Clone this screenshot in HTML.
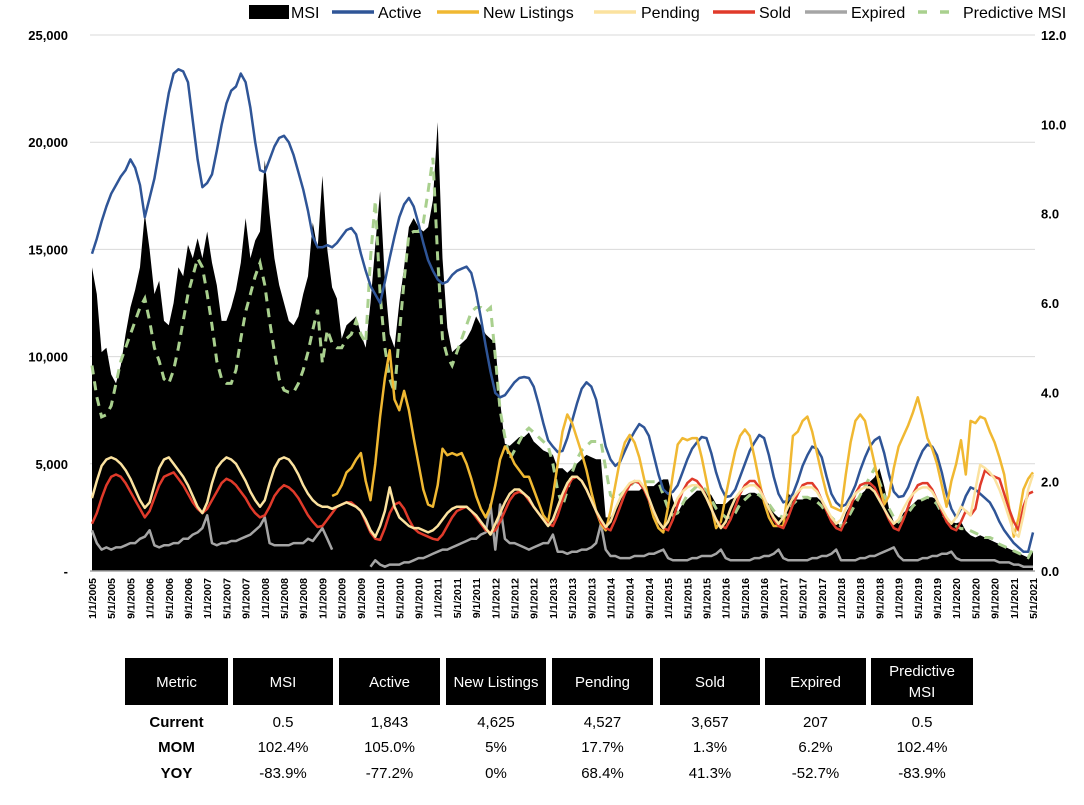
<!DOCTYPE html>
<html><head><meta charset="utf-8">
<style>
body{margin:0;background:#fff;width:1084px;height:800px;overflow:hidden;font-family:"Liberation Sans",sans-serif}
svg text{font-family:"Liberation Sans",sans-serif}
.tbl{position:absolute;left:0;top:0}
</style></head>
<body>
<svg id="chart" width="1084" height="800">
  <g id="grid"></g>
  <g id="area"></g>
  <g id="lines"></g>
  <g id="axes"></g>
  <g id="legend"></g>
  <g id="table"></g>
</svg>
<script>
// ---- data (monthly, 1/1/2005 .. 5/1/2021) ----
const startYear = 2005;
const leftTicks = [0,5000,10000,15000,20000,25000];
const leftTickLabels = ["-","5,000","10,000","15,000","20,000","25,000"];
const rightTicks = [0,2,4,6,8,10,12];
const rightTickLabels = ["0.0","2.0","4.0","6.0","8.0","10.0","12.0"];
const msi = [
6.8,6.2,4.9,5.0,4.4,4.2,4.6,5.3,5.9,6.3,6.8,8.0,
7.2,6.2,6.5,5.6,5.5,6.0,6.8,6.6,7.3,7.0,7.45,7.0,
7.6,6.9,6.4,5.6,5.6,5.9,6.3,6.9,7.9,7.0,7.4,7.6,
9.2,8.0,7.0,6.4,6.0,5.6,5.5,5.7,6.2,6.6,7.8,7.2,
8.85,7.2,6.35,6.1,5.2,5.5,5.6,5.7,5.3,5.0,6.0,7.3,
8.5,6.5,5.3,5.0,6.0,6.8,7.7,7.9,7.7,7.6,7.7,8.3,
10.05,7.0,5.45,4.9,5.0,5.1,5.2,5.4,5.7,5.5,5.3,5.2,
5.1,3.8,2.85,2.8,2.9,3.0,3.0,3.1,2.9,2.8,2.7,2.65,
2.6,2.3,2.3,2.2,2.3,2.4,2.5,2.6,2.55,2.5,2.5,1.2,
1.2,1.4,1.6,1.8,1.8,1.8,1.8,1.9,1.9,1.9,2.0,2.05,
2.05,1.6,1.3,1.5,1.6,1.7,1.8,1.8,1.8,1.7,1.5,1.5,
1.5,1.6,1.65,1.7,1.7,1.75,1.75,1.7,1.6,1.5,1.3,1.2,
1.2,1.75,1.6,1.6,1.6,1.65,1.65,1.65,1.55,1.4,1.2,1.1,
1.0,1.3,1.5,1.6,1.7,1.8,2.0,2.1,2.3,1.9,1.4,1.1,
1.07,1.3,1.4,1.5,1.6,1.6,1.65,1.65,1.6,1.4,1.2,1.1,
1.07,1.1,0.9,0.8,0.75,0.8,0.75,0.7,0.65,0.6,0.55,0.5,
0.45,0.4,0.35,0.3,0.45];
const predictiveMsi = [
4.6,3.9,3.45,3.5,3.7,4.2,4.7,5.0,5.3,5.6,5.9,6.1,
5.6,5.0,4.7,4.3,4.2,4.5,5.0,5.6,6.2,6.6,7.0,6.8,
6.2,5.5,4.7,4.3,4.2,4.2,4.5,5.2,5.8,6.2,6.6,6.9,
6.4,5.6,4.9,4.3,4.05,4.0,4.0,4.2,4.5,4.9,5.4,5.85,
4.65,5.4,5.1,5.0,5.0,5.2,5.3,5.6,5.3,5.1,7.0,8.3,
6.2,5.0,4.3,4.0,5.3,6.5,7.55,7.6,7.6,7.8,8.5,9.25,
7.0,5.2,4.8,4.6,4.9,5.2,5.5,5.8,5.9,5.9,5.8,5.9,
4.8,3.6,3.0,2.5,2.7,2.9,3.1,3.2,3.1,3.0,2.9,2.8,
2.4,1.8,1.45,1.8,2.2,2.5,2.7,2.8,2.9,2.9,2.9,2.3,
1.7,1.6,1.7,1.8,1.9,2.0,2.0,2.0,2.0,2.0,2.0,1.7,
1.4,1.25,1.3,1.5,1.7,1.8,1.9,1.9,1.8,1.6,1.4,1.3,
1.2,1.2,1.3,1.5,1.6,1.7,1.75,1.7,1.6,1.5,1.35,1.25,
1.2,1.3,1.5,1.6,1.65,1.65,1.6,1.55,1.45,1.3,1.2,1.1,
1.0,1.1,1.3,1.5,1.7,1.9,2.1,2.3,2.0,1.7,1.4,1.2,
1.1,1.2,1.3,1.45,1.55,1.6,1.65,1.6,1.5,1.3,1.15,1.05,
1.0,0.95,0.95,0.9,0.85,0.8,0.75,0.75,0.7,0.6,0.55,0.5,
0.45,0.4,0.35,0.3,0.5];
const activeK = [
14.8,15.5,16.3,17.0,17.6,18.0,18.4,18.7,19.2,18.8,18.0,16.5,
17.4,18.3,19.6,21.0,22.3,23.2,23.4,23.3,22.8,21.0,19.2,17.9,
18.1,18.5,19.6,20.8,21.8,22.4,22.6,23.2,22.8,21.6,20.0,18.7,
18.6,19.2,19.8,20.2,20.3,20.0,19.4,18.6,17.8,16.8,15.6,15.1,
15.1,15.2,15.1,15.3,15.6,15.9,16.0,15.7,14.8,14.0,13.3,12.9,
12.5,13.5,14.6,15.6,16.5,17.1,17.4,17.0,16.2,15.3,14.5,14.0,
13.6,13.4,13.5,13.8,14.0,14.1,14.2,13.9,13.0,11.8,10.5,9.3,
8.3,8.1,8.2,8.5,8.8,9.0,9.05,9.0,8.6,7.8,6.9,6.1,
5.8,5.55,5.6,6.2,7.0,7.8,8.5,8.8,8.6,8.0,6.9,5.8,
5.2,4.9,5.1,5.6,6.1,6.5,6.85,6.7,6.3,5.4,4.5,3.8,
3.6,3.7,4.0,4.6,5.2,5.7,6.0,6.25,6.2,5.5,4.6,3.9,
3.45,3.5,3.8,4.4,5.0,5.6,6.0,6.35,6.2,5.4,4.4,3.6,
3.2,3.3,3.6,4.2,4.9,5.4,5.8,5.7,5.3,4.4,3.6,3.2,
3.0,3.1,3.5,4.0,4.7,5.3,5.8,6.1,6.25,5.5,4.5,3.7,
3.45,3.5,3.9,4.5,5.1,5.6,5.9,5.8,5.4,4.6,3.6,2.9,
2.5,2.9,3.5,3.9,3.8,3.6,3.4,3.2,2.8,2.3,1.9,1.6,
1.3,1.1,0.9,0.9,1.8];
const newListingsK = [
null,null,null,null,null,null,null,null,null,null,null,null,
null,null,null,null,null,null,null,null,null,null,null,null,
null,null,null,null,null,null,null,null,null,null,null,null,
null,null,null,null,null,null,null,null,null,null,null,null,
null,null,3.5,3.6,4.0,4.6,4.8,5.2,5.5,4.2,3.3,5.0,
7.2,9.0,10.3,8.0,7.5,8.4,7.5,6.2,5.0,3.8,3.1,3.0,
4.0,5.7,5.4,5.5,5.4,5.5,5.0,4.3,3.5,2.9,2.5,3.0,
4.0,5.2,5.8,5.5,5.0,4.7,4.4,4.4,3.8,3.2,2.6,2.3,
3.5,5.0,6.5,7.3,6.9,6.2,5.5,4.7,3.7,2.8,2.2,1.9,
2.8,4.0,5.2,6.0,6.35,6.0,5.3,4.3,3.3,2.5,2.0,1.8,
3.0,4.5,5.9,6.2,6.1,6.2,6.2,5.3,4.2,3.0,2.0,2.3,
3.5,4.6,5.6,6.3,6.6,6.3,5.3,4.2,3.2,2.5,2.1,2.1,
2.1,3.8,6.3,6.5,7.0,7.2,6.5,5.5,4.5,3.6,3.0,2.9,
2.8,4.5,6.0,7.0,7.3,7.0,6.0,5.0,4.0,3.1,3.5,4.8,
5.8,6.3,6.8,7.4,8.1,7.2,6.2,5.7,5.0,4.0,3.0,4.2,
5.0,6.1,4.5,7.0,6.9,7.2,7.1,6.5,6.0,5.3,4.5,3.0,
1.6,2.5,3.8,4.3,4.6];
const pendingK = [
3.4,4.2,4.9,5.2,5.3,5.2,5.0,4.7,4.3,3.8,3.3,2.95,
3.2,4.0,4.8,5.2,5.3,5.0,4.7,4.4,4.0,3.5,3.0,2.7,
3.2,4.1,4.8,5.1,5.3,5.2,5.0,4.6,4.2,3.7,3.3,3.0,
3.3,4.1,4.8,5.2,5.3,5.2,4.9,4.5,4.0,3.6,3.3,3.1,
3.0,3.0,2.9,3.0,3.1,3.2,3.1,3.0,2.8,2.4,1.9,1.6,
2.1,2.8,3.9,3.0,2.5,2.3,2.1,2.0,2.0,1.9,1.8,1.9,
2.1,2.4,2.7,2.9,3.0,3.0,3.0,2.8,2.6,2.3,2.0,1.7,
2.2,2.7,3.2,3.6,3.8,3.8,3.6,3.4,3.0,2.7,2.4,2.1,
2.4,3.0,3.6,4.1,4.4,4.4,4.2,3.8,3.3,2.8,2.4,2.05,
2.3,2.9,3.4,3.8,4.1,4.2,4.2,3.9,3.4,2.8,2.3,2.0,
2.3,2.9,3.4,3.7,3.9,4.0,4.0,3.8,3.4,2.9,2.4,2.0,
2.3,2.9,3.4,3.7,3.9,4.0,4.0,3.8,3.4,2.9,2.5,2.2,
2.5,3.0,3.4,3.7,3.9,3.9,3.9,3.7,3.3,2.9,2.5,2.2,
2.4,2.9,3.3,3.6,3.8,3.9,3.9,3.7,3.3,2.9,2.5,2.2,
2.4,2.9,3.3,3.6,3.8,3.9,3.9,3.7,3.3,2.9,2.5,2.2,
2.5,3.0,2.8,2.6,3.8,4.95,4.8,4.6,4.3,3.8,3.2,2.5,
1.8,1.6,2.6,3.8,4.5];
const soldK = [
2.2,2.7,3.4,4.0,4.4,4.5,4.4,4.1,3.7,3.3,2.9,2.5,
2.8,3.4,4.0,4.4,4.5,4.6,4.3,4.0,3.6,3.2,2.9,2.7,
2.9,3.3,3.7,4.1,4.3,4.2,4.0,3.7,3.4,3.0,2.7,2.5,
2.6,3.0,3.5,3.8,4.0,3.9,3.7,3.4,3.0,2.6,2.3,2.05,
2.1,2.4,2.7,3.0,3.1,3.2,3.2,3.0,2.8,2.3,1.8,1.5,
1.45,2.0,2.7,3.1,3.2,2.9,2.4,2.0,1.8,1.7,1.6,1.5,
1.45,1.7,2.1,2.5,2.8,2.9,3.0,2.8,2.5,2.2,1.9,1.8,
1.9,2.3,2.8,3.3,3.6,3.7,3.6,3.3,3.0,2.7,2.4,2.2,
2.1,2.6,3.3,3.9,4.3,4.4,4.2,3.8,3.3,2.8,2.3,2.0,
1.9,2.4,3.0,3.6,4.0,4.2,4.1,3.8,3.3,2.8,2.3,2.0,
1.9,2.4,3.1,3.7,4.1,4.3,4.2,3.9,3.4,2.9,2.4,2.1,
2.0,2.4,3.0,3.6,4.0,4.2,4.2,3.9,3.4,2.9,2.4,2.1,
2.0,2.5,3.1,3.6,4.0,4.1,4.1,3.8,3.3,2.8,2.3,2.0,
1.9,2.4,3.0,3.6,4.0,4.1,4.1,3.9,3.4,2.9,2.4,2.0,
1.9,2.4,3.0,3.6,4.0,4.1,4.1,3.8,3.3,2.8,2.3,2.0,
1.9,2.3,2.8,2.6,2.9,4.0,4.7,4.5,4.4,4.3,3.6,2.9,
2.3,1.9,3.0,3.6,3.7];
const expiredK = [
1.9,1.3,1.0,1.1,1.0,1.1,1.1,1.2,1.3,1.3,1.5,1.6,
1.9,1.2,1.1,1.2,1.2,1.3,1.3,1.5,1.5,1.7,1.8,2.0,
2.6,1.3,1.2,1.3,1.3,1.4,1.4,1.5,1.6,1.7,1.9,2.1,
2.5,1.3,1.2,1.2,1.2,1.2,1.3,1.3,1.3,1.5,1.4,1.7,
2.0,1.5,1.0,null,null,null,null,null,null,null,0.2,0.5,
0.3,0.2,0.3,0.3,0.3,0.4,0.4,0.5,0.6,0.6,0.7,0.8,
0.9,1.0,1.0,1.1,1.2,1.3,1.4,1.5,1.5,1.7,1.8,3.1,
1.0,3.1,1.5,1.3,1.3,1.2,1.1,1.0,1.1,1.2,1.3,1.3,
1.7,0.9,0.9,0.8,0.9,0.9,1.0,1.0,1.1,1.3,2.2,1.0,
0.7,0.7,0.6,0.6,0.6,0.7,0.7,0.7,0.8,0.8,0.9,1.0,
0.6,0.5,0.5,0.5,0.5,0.6,0.6,0.7,0.7,0.7,0.8,1.0,
0.6,0.5,0.5,0.5,0.5,0.5,0.6,0.6,0.7,0.7,0.8,1.0,
0.6,0.5,0.5,0.5,0.5,0.5,0.6,0.6,0.7,0.7,0.8,1.0,
0.5,0.5,0.5,0.5,0.6,0.6,0.7,0.7,0.8,0.9,1.0,1.1,
0.7,0.5,0.5,0.5,0.5,0.6,0.6,0.7,0.7,0.8,0.8,0.9,
0.6,0.5,0.5,0.5,0.5,0.5,0.5,0.5,0.5,0.4,0.4,0.4,
0.3,0.3,0.2,0.2,0.2];
const tableHeaders = ["Metric","MSI","Active","New Listings","Pending","Sold","Expired","Predictive MSI"];
const tableRows = [
 ["Current","0.5","1,843","4,625","4,527","3,657","207","0.5"],
 ["MOM","102.4%","105.0%","5%","17.7%","1.3%","6.2%","102.4%"],
 ["YOY","-83.9%","-77.2%","0%","68.4%","41.3%","-52.7%","-83.9%"]];

// ---- scales ----
const NS="http://www.w3.org/2000/svg";
const X0=92, X1=1033, YB=571, YT=35;
const n = msi.length;
function xs(i){return X0+(X1-X0)*i/(n-1);}
function yl(v){return YB-(YB-YT)*v/25000;}
function yr(v){return YB-(YB-YT)*v/12;}
function mk(tag,attrs,parent){const e=document.createElementNS(NS,tag);for(const k in attrs)e.setAttribute(k,attrs[k]);parent.appendChild(e);return e;}

const grid=document.getElementById('grid'), area=document.getElementById('area'),
 lines=document.getElementById('lines'), axes=document.getElementById('axes'),
 legend=document.getElementById('legend'), table=document.getElementById('table');

leftTicks.forEach((t,k)=>{
  if(t>0){const g=mk('line',{x1:X0-2,x2:X1+2,y1:yl(t),y2:yl(t),stroke:'#d9d9d9','stroke-width':1},grid);
  
  }
  const tx=mk('text',{x:68,y:yl(t)+5,'text-anchor':'end','font-size':13,'font-weight':'bold',fill:'#000'},axes);
  tx.textContent=leftTickLabels[k];
  
  
});
rightTicks.forEach((t,k)=>{
  const tx=mk('text',{x:1041,y:yr(t)+5,'font-size':13,'font-weight':'bold',fill:'#000'},axes);
  tx.textContent=rightTickLabels[k];
  
  
});

// MSI area
let d='M'+xs(0)+','+YB;
msi.forEach((v,i)=>{d+=' L'+xs(i).toFixed(1)+','+yr(v).toFixed(1);});
d+=' L'+xs(n-1)+','+YB+' Z';
const ar=mk('path',{d:d,fill:'#000'},area);



const base=mk('line',{x1:X0-2,x2:X1+2,y1:YB,y2:YB,stroke:'#a6a6a6','stroke-width':1.5},axes);



function linePath(arr,scale,k){let s='',pen=false;arr.forEach((v,i)=>{if(v===null){pen=false;return;}
  const y=scale(v*k);s+=(pen?' L':' M')+xs(i).toFixed(1)+','+y.toFixed(1);pen=true;});return s;}
const expP=mk('path',{d:linePath(expiredK,yl,1000),fill:'none',stroke:'#a5a5a5','stroke-width':2.5,'stroke-linejoin':'round'},lines);


const predP=mk('path',{d:linePath(predictiveMsi,yr,1),fill:'none',stroke:'#a9d08e','stroke-width':3,'stroke-dasharray':'9,7'},lines);


const actP=mk('path',{d:linePath(activeK,yl,1000),fill:'none',stroke:'#2f5597','stroke-width':2.5,'stroke-linejoin':'round'},lines);


const nlP=mk('path',{d:linePath(newListingsK,yl,1000),fill:'none',stroke:'#f0b832','stroke-width':2.5,'stroke-linejoin':'round'},lines);


const soP=mk('path',{d:linePath(soldK,yl,1000),fill:'none',stroke:'#e03a2a','stroke-width':2.5,'stroke-linejoin':'round'},lines);


const peP=mk('path',{d:linePath(pendingK,yl,1000),fill:'none',stroke:'#fbe29f','stroke-width':2.5,'stroke-linejoin':'round'},lines);



// x labels every 4 months
for(let i=0;i<n;i+=4){
  const yr0=startYear+Math.floor(i/12), m=(i%12)+1;
  const x=xs(i)+4;
  const t=mk('text',{x:0,y:0,'font-size':10.5,'font-weight':'bold','text-anchor':'end',transform:'translate('+x.toFixed(1)+',578) rotate(-90)'},axes);
  t.textContent=m+'/1/'+yr0;
  
  
}

// legend
const leg=[
 {n:'MSI',t:'rect',x:249,tx:291},
 {n:'Active',c:'#2f5597',x:332,tx:378},
 {n:'New Listings',c:'#f0b832',x:437,tx:483},
 {n:'Pending',c:'#fbe29f',x:594,tx:641},
 {n:'Sold',c:'#e03a2a',x:713,tx:759},
 {n:'Expired',c:'#a5a5a5',x:805,tx:851},
 {n:'Predictive MSI',c:'#a9d08e',x:918,tx:963,dash:true}];
leg.forEach(L=>{
  const g=mk('g',{},legend);
  
  
  if(L.t==='rect') mk('rect',{x:L.x,y:5,width:40,height:14,fill:'#000'},g);
  else mk('line',{x1:L.x,x2:L.x+(L.dash?31:42),y1:12,y2:12,stroke:L.c,'stroke-width':3.5,'stroke-dasharray':L.dash?'9,13':'none'},g);
  const t=mk('text',{x:L.tx,y:18,'font-size':16,fill:'#000'},g);
  t.textContent=L.n;
});

// table
const colX=[125,233,339,446,552,660,765,871], colW=[103,100,101,100,101,100,101,102];
colX.forEach((x,k)=>{
  const r=mk('rect',{x:x,y:658,width:colW[k],height:47,fill:'#000'},table);
  
  
  const cx=x+colW[k]/2;
  if(tableHeaders[k]==='Predictive MSI'){
    const a=mk('text',{x:cx,y:676,'text-anchor':'middle','font-size':15,fill:'#fff'},table);a.textContent='Predictive';
    const b=mk('text',{x:cx,y:697,'text-anchor':'middle','font-size':15,fill:'#fff'},table);b.textContent='MSI';
  } else {
    const t=mk('text',{x:cx,y:687,'text-anchor':'middle','font-size':15,fill:'#fff'},table);t.textContent=tableHeaders[k];
  }
});
const rowY=[727,752,778];
tableRows.forEach((row,r)=>{
  row.forEach((v,k)=>{
    const t=mk('text',{x:colX[k]+colW[k]/2,y:rowY[r],'text-anchor':'middle','font-size':15,'font-weight':k===0?'bold':'normal',fill:'#000'},table);
    t.textContent=v;
    
    
  });
});
</script>
</body></html>
